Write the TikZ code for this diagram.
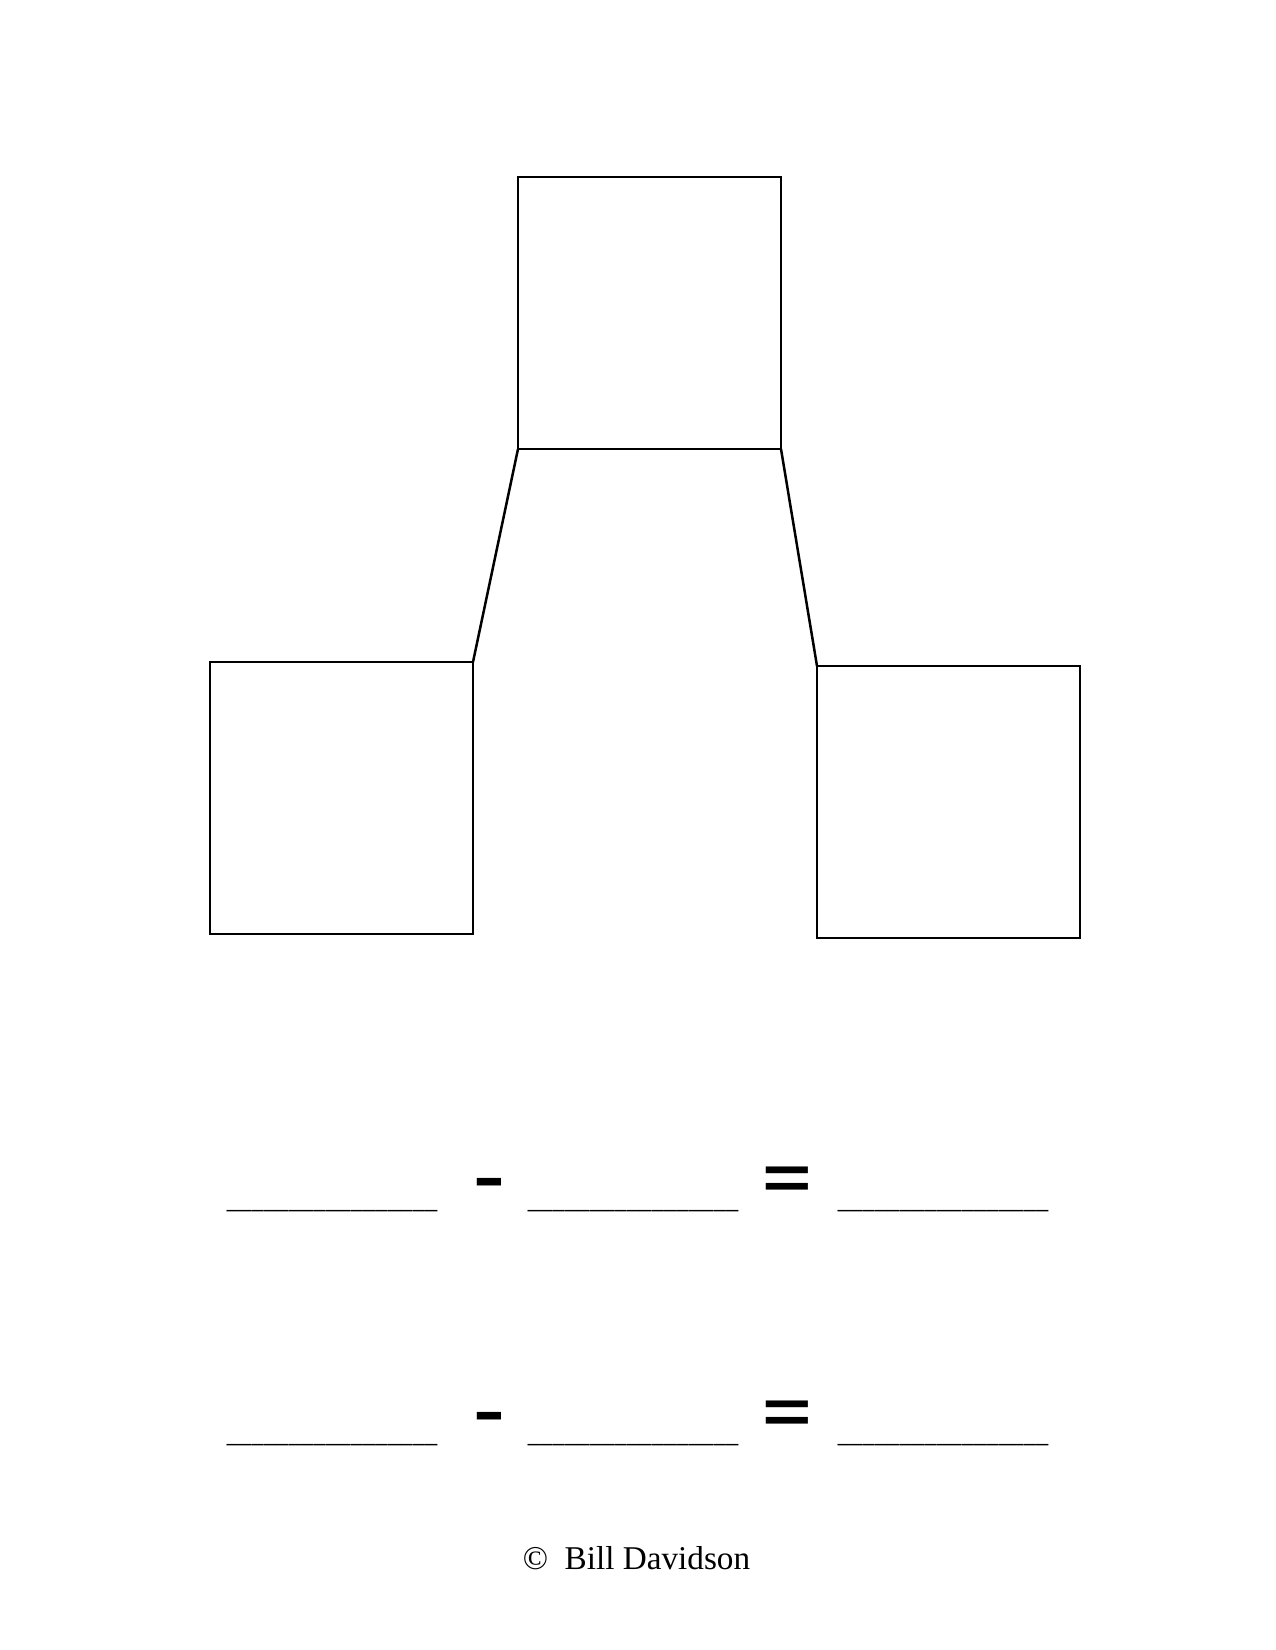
\documentclass[tikz,border=0pt]{standalone}
\usepackage{fontspec}
\setmainfont{Liberation Serif}
\newfontfamily\signfont{Carlito}
\usetikzlibrary{positioning}

\begin{document}
\begin{tikzpicture}[x=0.48bp,y=-0.48bp,auto]
	\tikzstyle{box}=[rectangle, draw=black, line width=1.35bp, outer sep=0pt, inner sep=0pt, minimum width=126.24bp, minimum height=130.56bp]
	\tikzstyle{link}=[draw=black, line width=1.2bp]
	\tikzstyle{blank}=[anchor=base, inner sep=0pt, font=\signfont\fontsize{12}{14}\selectfont]
	\tikzstyle{sign}=[anchor=base, inner sep=0pt, font=\signfont\fontsize{50}{60}\selectfont]

	\useasboundingbox (0,0) rectangle (1275,1650);
	\node [box] (top) at (649.5,313) {};
	\node [box] (left) [below left=102.24bp and 21.6bp of top] {};
	\node [box] (right) [below right=104.16bp and 17.28bp of top] {};
	\draw [link] (top.south west) -- (left.north east);
	\draw [link] (top.south east) -- (right.north west);

	\foreach \row/\y in {1/1208,2/1442} {
		\node [blank] (first\row) at (332,\y) {\_\_\_\_\_\_\_\_\_\_\_\_\_\_\_\_\_};
		\node [sign] (minus\row) at (489.5,\y+3) {-};
		\node [blank] (second\row) at (633,\y) {\_\_\_\_\_\_\_\_\_\_\_\_\_\_\_\_\_};
		\node [sign] (equals\row) at (787.5,\y+3) {=};
		\node [blank] (third\row) at (943,\y) {\_\_\_\_\_\_\_\_\_\_\_\_\_\_\_\_\_};
	}
	\node [anchor=base, inner sep=0pt, font=\fontsize{16}{19}\selectfont] (owner) at (636.5,1569) {©\ \ Bill Davidson};
\end{tikzpicture}
\end{document}
